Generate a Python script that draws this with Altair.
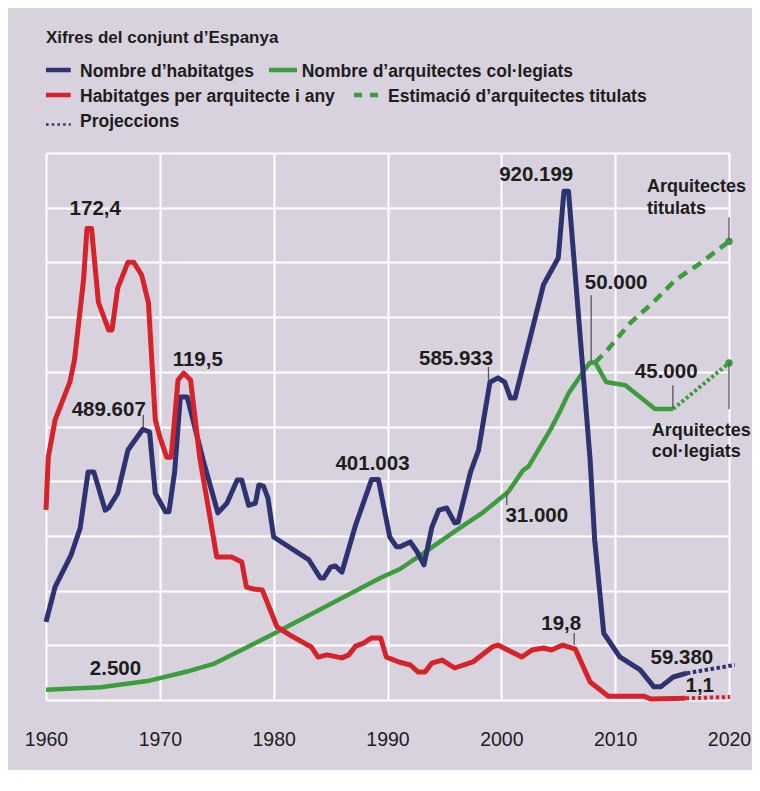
import altair as alt
import pandas as pd

# ---------------- data ----------------
# Nombre d'habitatges
hab_year = [1960.0, 1960.8, 1962.2, 1963.0, 1963.7, 1964.2, 1965.2, 1965.5, 1966.3, 1967.2,
            1968.5, 1969.1, 1969.6, 1970.5, 1970.8, 1971.3, 1971.8, 1972.4, 1973.8, 1975.1,
            1975.9, 1976.8, 1977.2, 1977.8, 1978.4, 1978.7, 1979.1, 1979.5, 1980.0, 1983.1,
            1984.1, 1984.4, 1985.0, 1985.4, 1986.0, 1987.2, 1988.6, 1989.2, 1990.2, 1990.8,
            1991.1, 1992.0, 1992.6, 1993.2, 1993.9, 1994.5, 1995.2, 1995.9, 1996.2, 1997.3,
            1998.0, 1999.0, 1999.7, 2000.3, 2000.8, 2001.2, 2003.7, 2005.0, 2005.5, 2005.9,
            2007.8, 2008.2, 2009.0, 2010.4, 2012.2, 2013.4, 2014.0, 2015.1, 2016.3]
hab_val = [143000, 207000, 265000, 314000, 417000, 417000, 347000, 351000, 378000, 457000,
           495000, 490000, 378000, 344000, 344000, 417000, 554000, 554000, 439000, 342000,
           360000, 402000, 402000, 356000, 360000, 393000, 391000, 369000, 298000, 256000,
           223000, 223000, 243000, 245000, 234000, 320000, 403000, 403000, 298000, 280000,
           280000, 289000, 271000, 247000, 316000, 347000, 351000, 324000, 325000, 417000,
           457000, 581000, 589000, 581000, 552000, 552000, 759000, 808000, 930000, 930000,
           439000, 293000, 122000, 79000, 55000, 24000, 24000, 42000, 49000]
hab_proj_year = [2016.3, 2020.5]
hab_proj_val = [49000, 64000]

# Habitatges per arquitecte i any
per_year = [1960.0, 1960.2, 1960.8, 1962.1, 1962.5, 1963.3, 1963.6, 1964.0, 1964.6, 1965.5,
            1965.8, 1966.3, 1967.2, 1967.7, 1968.4, 1969.0, 1969.6, 1970.0, 1970.6, 1971.0,
            1971.6, 1972.1, 1972.7, 1973.5, 1975.0, 1976.3, 1977.2, 1977.6, 1978.2, 1979.0,
            1980.3, 1981.4, 1983.3, 1983.9, 1984.7, 1986.0, 1986.6, 1987.2, 1987.9, 1988.6,
            1989.4, 1989.9, 1991.0, 1992.0, 1992.7, 1993.3, 1993.9, 1994.8, 1995.9, 1997.5,
            1999.2, 1999.7, 2001.8, 2002.7, 2003.7, 2004.4, 2005.4, 2006.5, 2007.8, 2009.4,
            2012.5, 2013.1, 2016.2]
per_val = [69.5, 88.8, 102.4, 116.3, 124.3, 153.6, 172.4, 172.4, 145.5, 135.3,
           135.3, 150.6, 160.1, 160.1, 155.4, 145.2, 102.4, 96.2, 88.8, 88.8,
           117.0, 119.5, 117.0, 88.8, 52.3, 52.3, 50.5, 41.3, 40.6, 40.2,
           26.7, 23.8, 19.4, 15.7, 16.5, 15.4, 16.5, 19.7, 20.8, 22.7,
           22.7, 15.7, 13.9, 12.8, 10.2, 10.2, 13.5, 14.6, 11.7, 13.9,
           19.4, 20.1, 15.7, 18.3, 19.0, 18.3, 20.1, 18.6, 6.6, 1.4,
           1.4, 0.4, 0.6]
per_proj_year = [2016.2, 2020.1]
per_proj_val = [0.6, 1.1]

# Nombre d'arquitectes col·legiats
arq_year = [1960.0, 1964.8, 1968.9, 1972.6, 1974.8, 1980.0, 1989.4, 1991.1, 1993.2, 1996.1,
            1998.4, 2000.6, 2001.9, 2002.4, 2004.4, 2005.2, 2005.9, 2007.1, 2007.75, 2008.25,
            2009.2, 2010.9, 2013.5, 2015.1]
arq_val = [1500, 1900, 2800, 4300, 5400, 9800, 18100, 19400, 21800, 25200,
           27800, 30800, 34000, 34600, 40300, 42900, 45400, 48400, 49900, 50000,
           47100, 46600, 43100, 43100]
arq_proj_year = [2015.1, 2020.0]
arq_proj_val = [43100, 49900]

# Estimació d'arquitectes titulats
tit_year = [2008.25, 2009.3, 2011.3, 2013.35, 2015.3, 2017.5, 2019.2, 2020.0]
tit_val = [50000, 51800, 55800, 58900, 62200, 64700, 66900, 67900]

end_year = [2020.0, 2020.0]
end_val = [67900, 49900]

x_ticks = [1960, 1970, 1980, 1990, 2000, 2010, 2020]
hab_grid = [0, 100000, 200000, 300000, 400000, 500000, 600000, 700000, 800000, 900000, 1000000]

# annotations
hab_notes = ["489.607", "585.933", "401.003", "920.199", "59.380"]
hab_note_year = [1968.55, 1998.87, 1988.9, 2005.7, 2016.3]
hab_note_val = [521000, 609000, 403000, 930000, 49000]
hab_tick_year = [1968.55, 1998.87]
hab_tick_top = [521000, 609000]
hab_tick_bot = [499000, 585000]

per_notes = ["172,4", "119,5", "19,8", "1,1"]
per_note_year = [1963.8, 1972.1, 2006.4, 2016.2]
per_note_val = [172.4, 119.5, 24.5, 0.6]
per_tick_year = [2006.4]
per_tick_top = [24.5]
per_tick_bot = [20.1]

arq_notes = ["2.500", "31.000", "50.000", "45.000", "Arquitectes", "titulats", "Arquitectes", "col·legiats"]
arq_note_year = [1966.1, 2000.48, 2007.89, 2015.07, 2020.0, 2020.0, 2020.0, 2020.0]
arq_note_val = [2200, 28860, 59940, 46620, 71480, 71480, 43070, 43070]
arq_tick_year = [2000.48, 2007.89, 2015.07, 2020.0, 2020.0]
arq_tick_top = [30830, 59940, 46620, 71480, 50020]
arq_tick_bot = [28860, 50070, 43220, 68080, 43070]

title_text = "Xifres del conjunt d’Espanya"
legend_labels = ["Nombre d’habitatges", "Nombre d’arquitectes col·legiats",
                 "Habitatges per arquitecte i any", "Estimació d’arquitectes titulats",
                 "Projeccions"]

# ---------------- styles / layout ----------------
BG = "#d8d2df"
NAVY = "#2f3270"
RED = "#d52329"
GREEN = "#3d9c3b"
INK = "#1d1d1b"
TICK = "#555555"
FONT = "Liberation Sans"

W, H = 683, 547

# label offsets (dx, dy, align, size)
hab_note_fmt = [(2.5, 0.7, "right", 20.5), (4.7, -1.7, "right", 20.5), (-2.5, -9.6, "center", 20.5),
                (-30, -10.6, "center", 20.5), (-5, -9.2, "center", 20.5)]
per_note_fmt = [(6, -13.4, "center", 20.5), (14, -7.4, "center", 20.5), (-13, -3, "center", 20.5),
                (14, -6, "center", 20.5)]
arq_note_fmt = [(0, -10, "center", 20.5), (-1.4, 17, "left", 20.5), (25, -6, "center", 20.5),
                (-6.7, -7.3, "center", 20.5), (-82, -25.3, "left", 18), (-82, -3.7, "left", 18),
                (-77.3, 27, "left", 18), (-77.3, 48, "left", 18)]

X_SCALE = alt.Scale(domain=[1960, 2020], nice=False, zero=False)
X_AXIS = alt.Axis(values=x_ticks, format="d", title=None, grid=True, gridColor="white",
                  gridWidth=2, ticks=False, tickSize=0, domain=False, labelFont=FONT,
                  labelFontSize=19.5, labelColor=INK, labelPadding=30, labelOffset=0,
                  labelFlush=False, labelOverlap=False)


def xenc():
    return alt.X("year:Q", scale=X_SCALE, axis=X_AXIS)


HAB_SCALE = alt.Scale(domain=[0, 1000000], nice=False, zero=True)
HAB_AXIS = alt.Axis(values=hab_grid, grid=True, gridColor="white", gridWidth=2, labels=False,
                    ticks=False, domain=False, title=None)
PER_SCALE = alt.Scale(domain=[0, 200], nice=False, zero=True)
ARQ_SCALE = alt.Scale(domain=[0, 81000], nice=False, zero=True)


def yenc(field, scale, axis=None):
    return alt.Y(field + ":Q", scale=scale, axis=axis)


def line(years, vals, color, width, dash=None, scale=None, axis=None):
    kw = dict(color=color, strokeWidth=width, strokeJoin="round")
    if dash is not None:
        kw["strokeDash"] = dash
    return alt.Chart(pd.DataFrame({"year": years, "v": vals})).mark_line(**kw).encode(
        x=xenc(), y=yenc("v", scale, axis))


def notes(texts, years, vals, fmts, scale, axis=None):
    layers = []
    for t, yr, v, (dx, dy, al, sz) in zip(texts, years, vals, fmts):
        layers.append(
            alt.Chart(pd.DataFrame({"year": [yr], "v": [v], "t": [t]})).mark_text(
                align=al, baseline="alphabetic", dx=dx, dy=dy, font=FONT, fontWeight="bold",
                fontSize=sz, color=INK).encode(x=xenc(), y=yenc("v", scale, axis), text="t:N"))
    return layers


def ticks(years, tops, bots, scale, axis=None):
    df = pd.DataFrame({"year": years, "v": tops, "v2": bots})
    return alt.Chart(df).mark_rule(color=TICK, strokeWidth=1.3).encode(
        x=xenc(), y=yenc("v", scale, axis), y2="v2:Q")


# green series
arq_layer = alt.layer(
    line(arq_year, arq_val, GREEN, 4.5, scale=ARQ_SCALE),
    line(arq_proj_year, arq_proj_val, GREEN, 4, dash=[3, 2.5], scale=ARQ_SCALE),
    line(tit_year, tit_val, GREEN, 4.5, dash=[10, 7], scale=ARQ_SCALE),
    alt.Chart(pd.DataFrame({"year": end_year, "v": end_val})).mark_circle(
        color=GREEN, opacity=1, size=55).encode(x=xenc(), y=yenc("v", ARQ_SCALE)),
    ticks(arq_tick_year, arq_tick_top, arq_tick_bot, ARQ_SCALE),
    *notes(arq_notes, arq_note_year, arq_note_val, arq_note_fmt, ARQ_SCALE),
)

# blue series (carries the horizontal grid)
hab_layer = alt.layer(
    line(hab_year, hab_val, NAVY, 5, scale=HAB_SCALE, axis=HAB_AXIS),
    line(hab_proj_year, hab_proj_val, NAVY, 4, dash=[3.5, 2.5], scale=HAB_SCALE, axis=HAB_AXIS),
    ticks(hab_tick_year, hab_tick_top, hab_tick_bot, HAB_SCALE, HAB_AXIS),
    *notes(hab_notes, hab_note_year, hab_note_val, hab_note_fmt, HAB_SCALE, HAB_AXIS),
)

# red series
per_layer = alt.layer(
    line(per_year, per_val, RED, 5, scale=PER_SCALE),
    line(per_proj_year, per_proj_val, RED, 4, dash=[3.5, 2.5], scale=PER_SCALE),
    ticks(per_tick_year, per_tick_top, per_tick_bot, PER_SCALE),
    *notes(per_notes, per_note_year, per_note_val, per_note_fmt, PER_SCALE),
)

# legend and title (placed in the space above the plot)
one = pd.DataFrame({"k": [0]})


def lg_text(txt, x, y, size=17.5):
    return alt.Chart(one).mark_text(align="left", baseline="alphabetic", font=FONT,
                                    fontWeight="bold", fontSize=size, color=INK).encode(
        x=alt.value(x), y=alt.value(y), text=alt.value(txt))


def lg_rule(x1, x2, y, color, width=4.5, dash=None):
    kw = dict(color=color, strokeWidth=width)
    if dash is not None:
        kw["strokeDash"] = dash
    return alt.Chart(one).mark_rule(**kw).encode(x=alt.value(x1), x2=alt.value(x2), y=alt.value(y))


legend = [
    lg_text(title_text, 0, -109.7, 17),
    lg_rule(0, 24.7, -83, NAVY),
    lg_text(legend_labels[0], 34, -75.7),
    lg_rule(223, 251, -83, GREEN),
    lg_text(legend_labels[1], 255.7, -75.7),
    lg_rule(0, 24.7, -58, RED),
    lg_text(legend_labels[2], 34, -50.7),
    lg_rule(308, 334, -58, GREEN, dash=[8, 8]),
    lg_text(legend_labels[3], 342, -50.7),
    lg_rule(0, 24.7, -28.5, NAVY, width=2.6, dash=[2.6, 3.1]),
    lg_text(legend_labels[4], 34, -25.7),
]

chart = alt.layer(arq_layer, hab_layer, per_layer, *legend).resolve_scale(
    y="independent"
).properties(
    width=W, height=H,
    autosize=alt.AutoSizeParams(type="none"),
    padding={"left": 38, "top": 145, "right": 23, "bottom": 70},
).configure(background=BG, font=FONT).configure_view(stroke=None)

chart.save("out.html", embed_options={"renderer": "svg", "actions": False})
